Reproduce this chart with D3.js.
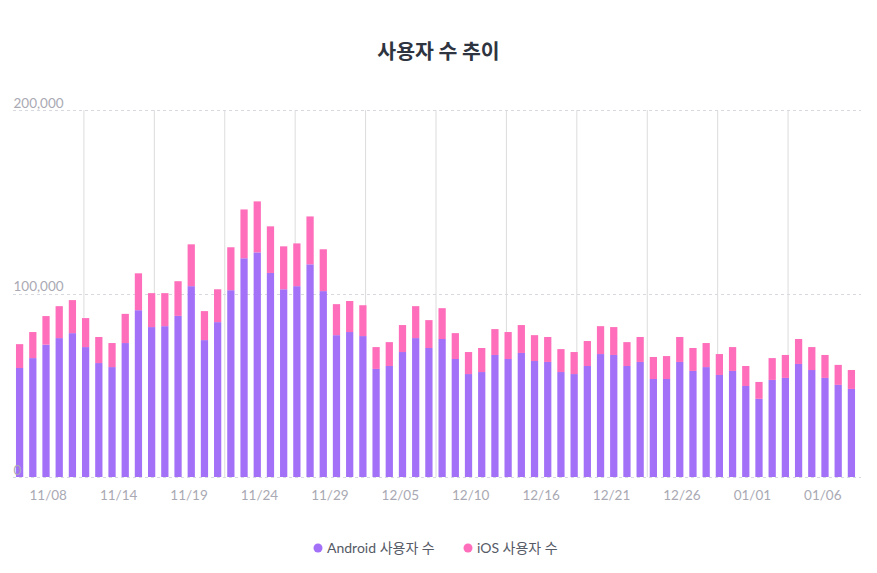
<!DOCTYPE html>
<html>
<head>
<meta charset="utf-8">
<script src="https://cdn.jsdelivr.net/npm/d3@7"></script>
<style>
  body { margin: 0; background: #fff; }
  text { font-family: Lato, "Noto Sans CJK KR", sans-serif; }
</style>
</head>
<body>
<div id="chart"></div>
<script>
// daily users, 11/06 ~ 01/08
const dates = d3.range(64).map(i => d3.timeFormat("%m/%d")(d3.timeDay.offset(new Date(2020, 10, 6), i)));

const android = [59.4, 64.8, 72.1, 75.7, 78.4, 70.8, 62.1, 59.9, 73.0, 90.9,
  81.7, 82.2, 87.8, 104.0, 74.6, 84.4, 101.8, 119.2, 122.4, 111.2,
  102.3, 104.0, 115.9, 101.3, 77.3, 79.0, 76.8, 58.9, 60.5, 68.1,
  75.7, 70.3, 75.2, 64.3, 56.1, 57.2, 66.5, 64.3, 67.6, 63.2,
  62.7, 57.2, 56.1, 60.5, 67.0, 66.5, 60.5, 62.7, 53.4, 53.4,
  62.7, 57.8, 59.9, 55.6, 57.8, 49.6, 42.6, 52.9, 54.0, 61.6,
  58.3, 54.0, 50.2, 48.0].map(v => v * 1000);

const totals = [72.4, 79.0, 87.7, 93.1, 96.4, 86.6, 76.3, 73.0, 88.9, 111.0,
  100.2, 100.2, 106.7, 126.8, 90.4, 102.3, 125.2, 145.8, 150.2, 136.6,
  125.7, 127.3, 142.0, 124.1, 94.2, 95.9, 93.6, 70.8, 73.5, 82.8,
  93.1, 85.5, 92.0, 78.4, 68.1, 70.3, 80.6, 79.0, 82.8, 77.3,
  76.3, 69.7, 68.1, 74.1, 82.2, 81.7, 73.5, 76.3, 65.4, 65.9,
  76.3, 70.3, 73.0, 67.0, 70.8, 60.5, 51.8, 64.8, 66.5, 75.2,
  70.8, 66.5, 61.1, 58.3].map(v => v * 1000);

const ios = totals.map((t, i) => t - android[i]);

const xLabels = ["11/08", "11/14", "11/19", "11/24", "11/29", "12/05", "12/10", "12/16", "12/21", "12/26", "01/01", "01/06"];
const yTicks = [0, 100000, 200000];

const seriesNames = ["Android 사용자 수", "iOS 사용자 수"];
const colors = ["#a371f7", "#ff6eba"];

const width = 877, height = 573;
const margin = {top: 110, right: 19, bottom: 96, left: 13};

const svg = d3.select("#chart").append("svg")
    .attr("width", width)
    .attr("height", height);

const rows = dates.map((d, i) => ({date: d, android: android[i], ios: ios[i]}));
const stacked = d3.stack().keys(["android", "ios"])(rows);

const x = d3.scaleBand()
    .domain(dates)
    .range([margin.left, width - margin.right])
    .paddingInner(0.45)
    .paddingOuter(0.225);

const y = d3.scaleLinear()
    .domain([0, 200000])
    .range([height - margin.bottom, margin.top]);

// segments for x labels / vertical grid
const seg = d3.scaleLinear()
    .domain([0, xLabels.length])
    .range([margin.left, width - margin.right]);

// vertical grid
svg.append("g")
  .selectAll("line")
  .data(d3.range(1, xLabels.length))
  .join("line")
    .attr("x1", d => seg(d) + 0.5)
    .attr("x2", d => seg(d) + 0.5)
    .attr("y1", y(200000))
    .attr("y2", y(0))
    .attr("stroke", "#dcdcdc")
    .attr("stroke-width", 1);

// horizontal grid
svg.append("g")
  .selectAll("line")
  .data(yTicks)
  .join("line")
    .attr("x1", margin.left)
    .attr("x2", width - margin.right + 3)
    .attr("y1", d => Math.round(y(d)) + 0.5)
    .attr("y2", d => Math.round(y(d)) + 0.5)
    .attr("stroke", "#d8d8e0")
    .attr("stroke-dasharray", "3,3");

// bars
svg.append("g")
  .selectAll("g")
  .data(stacked)
  .join("g")
    .attr("fill", (d, i) => colors[i])
  .selectAll("rect")
  .data(d => d)
  .join("rect")
    .attr("x", d => x(d.data.date))
    .attr("width", x.bandwidth())
    .attr("y", d => y(d[1]))
    .attr("height", d => y(d[0]) - y(d[1]));

// y labels
svg.append("g")
  .selectAll("text")
  .data(yTicks)
  .join("text")
    .attr("x", margin.left + 0.5)
    .attr("y", d => y(d) - 2.5)
    .attr("fill", "#a9a9b3")
    .attr("font-size", 13.5)
    .text(d => d3.format(",")(d));

// x labels
svg.append("g")
  .selectAll("text")
  .data(xLabels)
  .join("text")
    .attr("x", (d, i) => seg(i + 0.5))
    .attr("y", 500)
    .attr("text-anchor", "middle")
    .attr("fill", "#a9a9b3")
    .attr("font-size", 13.5)
    .text(d => d);

// title
svg.append("text")
    .attr("x", width / 2)
    .attr("y", 59)
    .attr("text-anchor", "middle")
    .attr("font-size", 20.5)
    .attr("font-weight", "bold")
    .attr("fill", "#2e3440")
    .style("font-family", "'Noto Sans CJK KR', sans-serif")
    .text("사용자 수 추이");

// legend
const legend = svg.append("g");
const legendX = [318, 468];
seriesNames.forEach((name, i) => {
  legend.append("circle")
      .attr("cx", legendX[i])
      .attr("cy", 548)
      .attr("r", 4.5)
      .attr("fill", colors[i]);
  legend.append("text")
      .attr("x", legendX[i] + 9)
      .attr("y", 553)
      .attr("font-size", 14)
      .attr("fill", "#555a66")
      .text(name);
});
</script>
</body>
</html>
